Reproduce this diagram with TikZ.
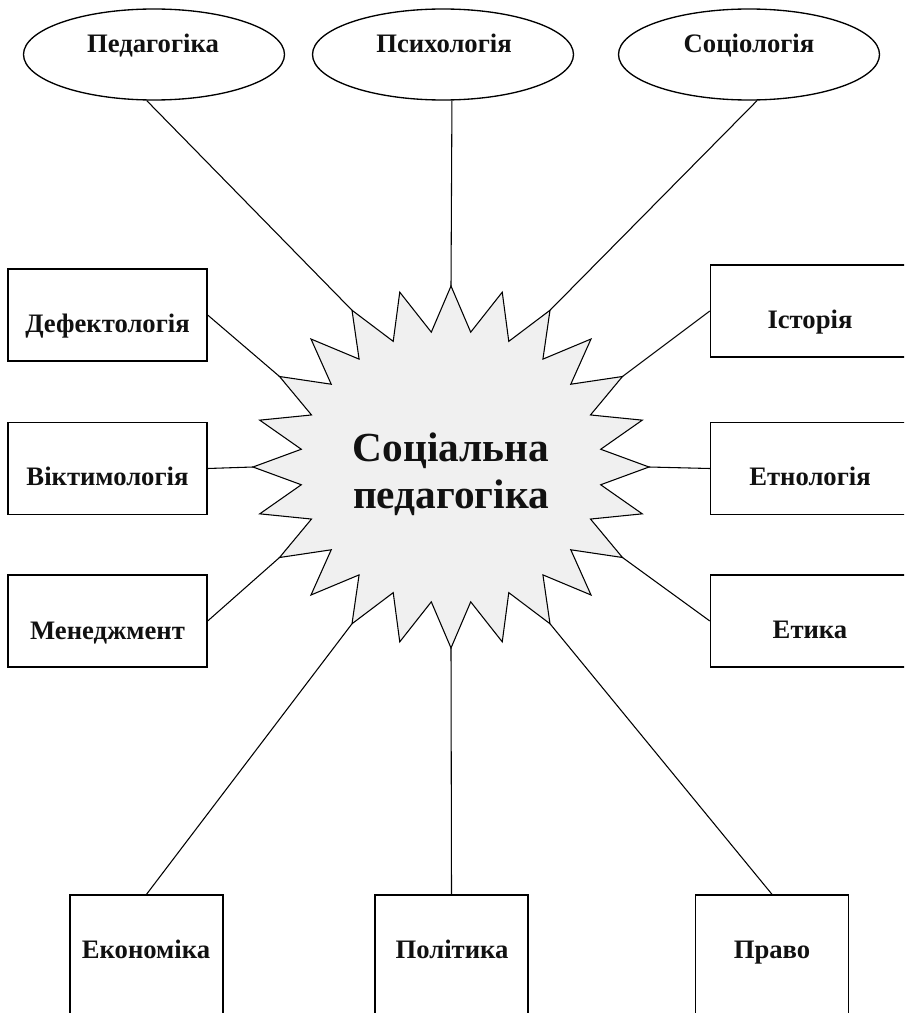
\documentclass[tikz,border=0pt]{standalone}
\usepackage{fontspec}
\setmainfont{Liberation Serif}
\usetikzlibrary{shapes.geometric}
\definecolor{starfill}{RGB}{240,240,240}
\definecolor{ink}{RGB}{17,17,17}
\begin{document}
\begin{tikzpicture}[x=0.75pt,y=-0.75pt,
  box/.style={draw,line width=1pt,rectangle,inner sep=0pt},
  oval/.style={draw,line width=1pt,ellipse,inner sep=0pt,minimum width={261*0.75pt},minimum height={91*0.75pt}},
  sidebox/.style={box,minimum width={199*0.75pt},minimum height={92*0.75pt}},
  lowbox/.style={box,minimum width={153*0.75pt},minimum height={175*0.75pt}},
  lab/.style={font=\bfseries\fontsize{20}{24}\selectfont,anchor=base,inner sep=0pt,text=ink},
  big/.style={font=\bfseries\fontsize{31}{36}\selectfont,anchor=base,inner sep=0pt,text=ink},
  link/.style={line width=0.8pt}]
\clip (0,0) rectangle (904,1013);
% top ellipses
\node[oval] (ped) at (154,54.5) {};
\node[oval] (psy) at (443,54.5) {};
\node[oval] (soc) at (749,54.5) {};
\node[lab] (pedt) at (153,53) {Педагогіка};
\node[lab] (psyt) at (444,53) {Психологія};
\node[lab] (soct) at (749,53) {Соціологія};
% left boxes
\node[sidebox] (def) at (107.5,315) {};
\node[sidebox] (vik) at (107.5,468.5) {};
\node[sidebox] (men) at (107.5,621) {};
\node[lab] (deft) at (107.5,332) {Дефектологія};
\node[lab] (vikt) at (107.5,485) {Віктимологія};
\node[lab] (ment) at (107.5,639) {Менеджмент};
% right boxes
\node[sidebox] (ist) at (810,311) {};
\node[sidebox] (etn) at (810,468.5) {};
\node[sidebox] (eti) at (810,621) {};
\node[lab] (istt) at (810,328) {Історія};
\node[lab] (etnt) at (810,485) {Етнологія};
\node[lab] (etit) at (810,638) {Етика};
% bottom boxes
\node[lowbox] (eco) at (146.5,982.5) {};
\node[lowbox] (pol) at (451.5,982.5) {};
\node[lowbox] (pra) at (772,982.5) {};
\node[lab] (ecot) at (146,958) {Економіка};
\node[lab] (polt) at (452,958) {Політика};
\node[lab] (prat) at (772,958) {Право};
% star
\begin{scope}[shift={(451,467)}]
\filldraw[fill=starfill,line width=0.8pt,line join=miter] (0:198 and 181)
  \foreach \k in {0,...,23}{ -- ({\k*15+7.5}:151 and 136) -- ({\k*15+15}:198 and 181)} -- cycle;
\foreach \k in {0,...,23} \coordinate (s\k) at ({\k*15}:198 and 181);
\end{scope}
\node[big] (c1) at (451,461) {Соціальна};
\node[big] (c2) at (451,508) {педагогіка};
% connectors
\draw[link] (ped.261) -- (s16);
\draw[link] (psy.281) -- (s18);
\draw[link] (soc.280) -- (s20);
\draw[link] (def.east) -- (s14);
\draw[link] (vik.east) -- (s12);
\draw[link] (men.east) -- (s10);
\draw[link] (ist.west) -- (s22);
\draw[link] (etn.west) -- (s0);
\draw[link] (eti.west) -- (s2);
\draw[link] (eco.north) -- (s8);
\draw[link] (pol.north) -- (s6);
\draw[link] (pra.north) -- (s4);
\end{tikzpicture}
\end{document}
